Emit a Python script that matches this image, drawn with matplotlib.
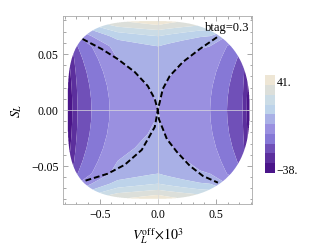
import numpy as np
import matplotlib
matplotlib.use('Agg')
import matplotlib.pyplot as plt
from matplotlib.ticker import MultipleLocator

plt.rcParams['font.family'] = ['Liberation Serif', 'DejaVu Serif']
plt.rcParams['mathtext.fontset'] = 'stix'

# colour bands (bottom -> top), range from the legend
v_min, v_max = -38.0, 41.0
band_colors = ['#4a1589', '#5c2f9d', '#7050b8', '#8678d6', '#9a90e0',
               '#a9b0e6', '#bdd3ea', '#cbdce6', '#dcdfda', '#eee6d5']

# band profiles (in band units, 0 = edge of the central band)
sl_knots = [0.0, 0.0098, 0.0214, 0.034, 0.0455, 0.0545, 0.057, 0.066, 0.0715, 0.076, 0.082]
sl_bands = [0.0, 0.03, 0.141, 0.356, 0.637, 0.914, 1.0, 2.0, 3.0, 4.0, 5.0]
vl_left_knots = [0.0, 0.026, 0.086, 0.198, 0.345, 0.414, 0.57, 0.69, 0.735, 0.78]
vl_left_bands = [0.0, 0.03, 0.141, 0.356, 0.637, 1.0, 2.0, 3.0, 4.0, 5.0]
vl_right_knots = [0.0, 0.017, 0.043, 0.103, 0.216, 0.362, 0.45, 0.595, 0.73, 0.765, 0.80]
vl_right_bands = [0.0, 0.016, 0.11, 0.28, 0.57, 0.9, 1.0, 2.0, 3.0, 4.0, 5.0]

# allowed region edge (half widths / shape exponents, left and right side)
edge_x = (0.775, 0.79)
edge_y = 0.0795
edge_p = (3.5, 2.5)

# dashed curves
dash_left_x = [-0.647, -0.483, -0.345, -0.198, -0.086, -0.026, 0.0, -0.026, -0.138, -0.284, -0.431, -0.629]
dash_left_y = [0.0634, 0.0545, 0.0455, 0.0339, 0.0214, 0.0098, 0.0, -0.0152, -0.0357, -0.049, -0.057, -0.0634]
dash_right_x = [0.509, 0.362, 0.216, 0.103, 0.043, 0.017, 0.0, 0.009, 0.078, 0.164, 0.276, 0.388, 0.517]
dash_right_y = [0.065, 0.0545, 0.0429, 0.0304, 0.0188, 0.0071, 0.0, -0.008, -0.026, -0.0375, -0.05, -0.059, -0.065]

levels = np.linspace(v_min, v_max, len(band_colors) + 1)
step = levels[1] - levels[0]

xg = np.linspace(-0.85, 0.85, 800)
yg = np.linspace(-0.09, 0.09, 800)
X, Y = np.meshgrid(xg, yg)
F = np.interp(np.abs(Y), sl_knots, sl_bands)
G = np.where(X < 0, np.interp(-X, vl_left_knots, vl_left_bands),
             np.interp(X, vl_right_knots, vl_right_bands))
Z = levels[5] + step * (F - G)
Z = np.clip(Z, v_min + 1e-6, v_max - 1e-6)
a = np.where(X < 0, edge_x[0], edge_x[1])
p = np.where(X < 0, edge_p[0], edge_p[1])
inside = (np.abs(X) / a) ** p + (np.abs(Y) / edge_y) ** p <= 1
Z = np.ma.masked_where(~inside, Z)

fig = plt.figure(figsize=(3.15, 2.53), dpi=100)
ax = fig.add_axes([0.2, 0.19, 0.6, 0.743])
cs = ax.contourf(X, Y, Z, levels=levels, colors=band_colors, antialiased=True)
ax.axhline(0, color='#dcdcdc', lw=0.5, zorder=2)
ax.axvline(0, color='#dcdcdc', lw=0.5, zorder=2)
ax.plot(dash_left_x, dash_left_y, color='black', lw=1.4, ls=(0, (3, 1.5)), zorder=3)
ax.plot(dash_right_x, dash_right_y, color='black', lw=1.4, ls=(0, (3, 1.5)), zorder=3)

ax.set_xlim(-0.815, 0.81)
ax.set_ylim(-0.084, 0.084)
ax.set_xticks([-0.5, 0.0, 0.5])
ax.set_yticks([-0.05, 0.0, 0.05])
ax.xaxis.set_minor_locator(MultipleLocator(0.1))
ax.yaxis.set_minor_locator(MultipleLocator(0.01))
ax.tick_params(which='both', direction='in', top=True, right=True, color='#999999', width=0.6)
ax.tick_params(which='major', length=3.5, labelsize=8.5, pad=3)
ax.tick_params(which='minor', length=1.8)
for sp in ax.spines.values():
    sp.set_color('#aaaaaa')
    sp.set_linewidth(0.6)

ax.text(0.985, 0.975, 'btag=0.3', transform=ax.transAxes, ha='right', va='top', fontsize=9)
ax.set_xlabel(r'$V_L^{\rm off}\!\times\!10^3$', fontsize=10, labelpad=4)
ax.set_ylabel(r'$S_L$', fontsize=10, labelpad=5)

cax = fig.add_axes([0.841, 0.312, 0.032, 0.387])
cb = fig.colorbar(cs, cax=cax)
cb.outline.set_visible(False)
cb.set_ticks([v_max - 4.0, v_min + 3.5])
cb.set_ticklabels(['41.', '\u221238.'])
cax.tick_params(length=0, labelsize=8.5, pad=1)

fig.savefig('out.png', dpi=100)
